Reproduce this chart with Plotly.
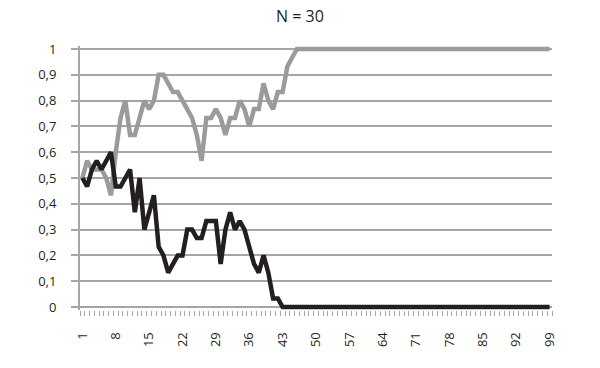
import plotly.graph_objects as go

categories = list(range(1, 100))

gray_values = [
    0.5, 0.567, 0.533, 0.533, 0.533, 0.5, 0.433, 0.6, 0.733, 0.8,
    0.667, 0.667, 0.733, 0.8, 0.767, 0.8, 0.9, 0.9, 0.867, 0.833,
    0.833, 0.8, 0.767, 0.733, 0.667, 0.567, 0.733, 0.733, 0.767, 0.733,
    0.667, 0.733, 0.733, 0.8, 0.767, 0.7, 0.767, 0.767, 0.867, 0.8,
    0.767, 0.833, 0.833, 0.933, 0.967, 1, 1, 1, 1, 1,
    1, 1, 1, 1, 1, 1, 1, 1, 1, 1,
    1, 1, 1, 1, 1, 1, 1, 1, 1, 1,
    1, 1, 1, 1, 1, 1, 1, 1, 1, 1,
    1, 1, 1, 1, 1, 1, 1, 1, 1, 1,
    1, 1, 1, 1, 1, 1, 1, 1, 1,
]

black_values = [
    0.5, 0.467, 0.533, 0.567, 0.533, 0.567, 0.6, 0.467, 0.467, 0.5,
    0.533, 0.367, 0.5, 0.3, 0.367, 0.433, 0.233, 0.2, 0.133, 0.167,
    0.2, 0.2, 0.3, 0.3, 0.267, 0.267, 0.333, 0.333, 0.333, 0.167,
    0.3, 0.367, 0.3, 0.333, 0.3, 0.233, 0.167, 0.133, 0.2, 0.133,
    0.033, 0.033, 0, 0, 0, 0, 0, 0, 0, 0,
    0, 0, 0, 0, 0, 0, 0, 0, 0, 0,
    0, 0, 0, 0, 0, 0, 0, 0, 0, 0,
    0, 0, 0, 0, 0, 0, 0, 0, 0, 0,
    0, 0, 0, 0, 0, 0, 0, 0, 0, 0,
    0, 0, 0, 0, 0, 0, 0, 0, 0,
]

x_tick_labels = ["1", "8", "15", "22", "29", "36", "43", "50", "57", "64",
                 "71", "78", "85", "92", "99"]
x_tick_vals = [1, 8, 15, 22, 29, 36, 43, 50, 57, 64, 71, 78, 85, 92, 99]
y_tick_vals = [0, 0.1, 0.2, 0.3, 0.4, 0.5, 0.6, 0.7, 0.8, 0.9, 1]
y_tick_labels = ["0", "0,1", "0,2", "0,3", "0,4", "0,5", "0,6", "0,7", "0,8", "0,9", "1"]

GRID = "#a6a6a6"
TEXT = "#231f20"
FONT = "Open Sans"

fig = go.Figure()
fig.add_trace(go.Scatter(x=categories, y=gray_values, mode="lines",
                         line=dict(color="#9b9b9b", width=4.5), showlegend=False))
fig.add_trace(go.Scatter(x=categories, y=black_values, mode="lines",
                         line=dict(color="#231f20", width=4.5), showlegend=False))

fig.update_layout(
    width=600, height=368,
    margin=dict(l=80, r=48, t=46, b=58),
    paper_bgcolor="white", plot_bgcolor="white",
    title=dict(text="N = 30", x=0.5, xanchor="center", y=0.972, yanchor="top",
               font=dict(family=FONT, size=16, color=TEXT)),
    font=dict(family=FONT, size=13, color=TEXT),
)
fig.update_xaxes(
    range=[0.5, 99.5], showgrid=False, zeroline=False, showline=False,
    tickmode="array", tickvals=x_tick_vals, ticktext=x_tick_labels,
    tickangle=-90, ticks="outside", ticklen=5, tickcolor="rgba(0,0,0,0)",
    ticklabelstandoff=11,
    tickfont=dict(family=FONT, size=13, color=TEXT),
    minor=dict(ticks="outside", tickmode="linear", tick0=0.5, dtick=1,
               ticklen=5, tickwidth=1, tickcolor=GRID, showgrid=False),
)
fig.update_yaxes(
    range=[-0.0117, 1.0117], showgrid=True, gridcolor=GRID, gridwidth=2,
    zeroline=True, zerolinecolor=GRID, zerolinewidth=2,
    showline=True, linecolor=GRID, linewidth=2,
    tickmode="array", tickvals=y_tick_vals, ticktext=y_tick_labels,
    ticks="outside", ticklen=7, tickcolor=GRID, tickwidth=2,
    ticklabelstandoff=12,
    tickfont=dict(family=FONT, size=13, color=TEXT),
)

fig.write_html("out.html")
